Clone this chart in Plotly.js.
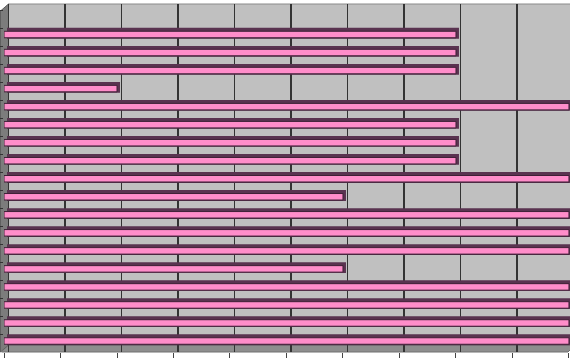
<!DOCTYPE html>
<html><head><meta charset="utf-8">
<script src="https://cdn.plot.ly/plotly-3.0.1.min.js"></script>
<style>html,body{margin:0;padding:0;background:#fff}#chart{width:570px;height:358px}</style>
</head><body><div id="chart"></div>
<script>
// rows from top to bottom (row 0 is an empty slot)
const rows = [0,1,2,3,4,5,6,7,8,9,10,11,12,13,14,15,16,17,18];
const values = [null,8,8,8,2,10,8,8,8,10,6,10,10,10,6,10,10,10,10];

// decorative geometry helpers (pixel -> paper)
const L = 4, T = 4, W = 566, H = 348;
const px = x => (x - L) / W;
const py = y => 1 - (y - T) / H;
const path = pts => 'M' + pts.map(p => px(p[0]).toFixed(5) + ',' + py(p[1]).toFixed(5)).join(' L') + ' Z';

// back-wall trace (transparent) so the gridded back axis is drawn
const back = {
  type: 'bar', orientation: 'h', x: values, y: rows,
  xaxis: 'x', yaxis: 'y',
  width: 0.6, offset: -0.37,
  marker: {color: 'rgba(0,0,0,0)', line: {width: 0}},
  hoverinfo: 'skip'
};
const dark = {
  type: 'bar', orientation: 'h', x: values, y: rows,
  xaxis: 'x2', yaxis: 'y',
  width: 0.6, offset: -0.37,
  marker: {color: '#5a3350', line: {width: 0}},
  hoverinfo: 'skip'
};
const pink = {
  type: 'bar', orientation: 'h', x: values, y: rows,
  xaxis: 'x3', yaxis: 'y',
  width: 0.36, offset: -0.18,
  marker: {color: '#ff8dca', line: {color: '#3e2036', width: 1}},
  hoverinfo: 'skip'
};

const layout = {
  width: 570, height: 358,
  margin: {l: L, r: 0, t: T, b: 6},
  paper_bgcolor: '#ffffff',
  plot_bgcolor: 'rgba(0,0,0,0)',
  showlegend: false,
  xaxis: {range: [-0.0796, 9.938], showgrid: true, tick0: 0, dtick: 1,
          gridcolor: '#333333', gridwidth: 1.5, zeroline: false,
          showticklabels: false, ticks: '', showline: false, anchor: 'y'},
  xaxis2: {overlaying: 'x', anchor: 'y', range: [-0.0531, 9.965],
           showgrid: false, zeroline: false, ticks: '', showticklabels: false, showline: false},
  xaxis3: {overlaying: 'x', anchor: 'y', side: 'bottom', range: [0, 10.018],
           showgrid: false, zeroline: false, ticks: 'outside', ticklen: 5,
           tickcolor: '#444444', tickwidth: 1, tick0: 0, dtick: 1,
           showticklabels: false, showline: false},
  yaxis: {range: [18.61, -0.693], showgrid: false, zeroline: false, anchor: 'x',
          showticklabels: false, ticks: 'outside', ticklen: 3,
          tickcolor: '#333333', tickmode: 'linear', tick0: -0.36, dtick: 1,
          showline: false},
  shapes: [
    {type: 'path', xref: 'paper', yref: 'paper', layer: 'below',
     path: path([[8.5,4],[575,4],[575,345],[8.5,345]]),
     fillcolor: '#c0c0c0', line: {color: '#8a8a8a', width: 1}},
    {type: 'path', xref: 'paper', yref: 'paper', layer: 'below',
     path: path([[8.5,345],[575,345],[568,352],[1.5,352]]),
     fillcolor: '#8e8e8e', line: {color: '#707070', width: 1}},
    {type: 'path', xref: 'paper', yref: 'paper', layer: 'below',
     path: path([[0.5,11],[8.5,4],[8.5,345],[0.5,352]]),
     fillcolor: '#7c7c7c', line: {color: '#606060', width: 1}}
  ]
};

Plotly.newPlot('chart', [back, dark, pink], layout, {displayModeBar: false, staticPlot: true});
</script>
</body></html>
